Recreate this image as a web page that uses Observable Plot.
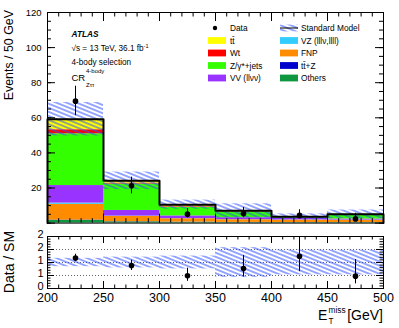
<!DOCTYPE html>
<html><head><meta charset="utf-8">
<script src="https://cdn.jsdelivr.net/npm/d3@7"></script>
<script src="https://cdn.jsdelivr.net/npm/@observablehq/plot@0.6"></script>
<style>
html,body{margin:0;padding:0;background:#fff;}
#wrap{position:relative;width:399px;height:328px;overflow:hidden;font-family:"Liberation Sans",Arial,sans-serif;}
#wrap svg{position:absolute;left:0;}
</style></head><body><div id="wrap"></div>
<script>
// ---- data ----
const binLow    = [200, 250, 300, 350, 400, 450];
const binHigh   = [250, 300, 350, 400, 450, 500];
const binCenter = [225, 275, 325, 375, 425, 475];

// stacked backgrounds, bottom -> top
const yOthers = [1.5, 0.7, 0.5, 0.3, 0.3, 0.3];
const yTtZ    = [0.2, 0.1, 0.1, 0.1, 0.05, 0.05];
const yFNP    = [9.0, 3.0, 1.9, 1.5, 1.4, 1.3];
const yVZ     = [0.7, 0.2, 0.1, 0.1, 0.1, 0.1];
const yVV     = [10.0, 3.2, 1.5, 1.1, 0.9, 0.6];
const yZjets  = [29.5, 15.1, 4.8, 3.2, 0.6, 2.3];
const yWt     = [2.3, 0.5, 0.4, 0.2, 0.1, 0.1];
const yTtbar  = [6.0, 1.3, 1.2, 0.5, 0.1, 0.3];
const smErr   = [9.5, 5.0, 2.6, 4.0, 1.7, 2.4];

const dataY   = [69.5, 21.3, 5.1, 5.4, 4.4, 2.4];
const dataLo  = [61.2, 16.7, 2.9, 3.1, 2.3, 0.9];
const dataHi  = [78.0, 26.2, 8.2, 8.9, 7.6, 5.6];

const samples      = ["Others", "ttZ", "FNP", "VZ", "VV", "Zjets", "Wt", "ttbar"];
const sampleColors = ["#0f9640", "#0000cc", "#ff8c00", "#33ccff", "#9933ff", "#33ff00", "#ff0000", "#ffff00"];

const legendCol1 = [["Data", null], ["tt\u0304", "ttbar"], ["Wt", "Wt"], ["Z/\u03b3*+jets", "Zjets"], ["VV (ll\u03bd\u03bd)", "VV"]];
const legendCol2 = [["Standard Model", null], ["VZ (lll\u03bd,llll)", "VZ"], ["FNP", "FNP"], ["tt\u0304+Z", "ttZ"], ["Others", "Others"]];

const xTicksMajor = [200, 250, 300, 350, 400, 450, 500];
const yTicksMain  = [20, 40, 60, 80, 100, 120];
const yTicksRatio = [0, 0.5, 1, 1.5, 2];

// ---- derived ----
const stackSeries = [yOthers, yTtZ, yFNP, yVZ, yVV, yZjets, yWt, yTtbar];
const rows = [];
binLow.forEach((lo, i) => {
  let c = 0;
  stackSeries.forEach((s, k) => {
    rows.push({x1: lo, x2: binHigh[i], y1: c, y2: c + s[i], sample: samples[k]});
    c += s[i];
  });
});
const totals = binLow.map((_, i) => d3.sum(stackSeries, s => s[i]));
const bins = binLow.map((lo, i) => ({
  x1: lo, x2: binHigh[i], xc: binCenter[i], mc: totals[i], err: smErr[i],
  d: dataY[i], lo: dataLo[i], hi: dataHi[i]
}));
const stepPts = [{x: binLow[0], y: 0}]
  .concat(binLow.map((lo, i) => ({x: lo, y: totals[i]})))
  .concat([{x: binHigh[5], y: totals[5]}, {x: binHigh[5], y: 0}]);

const FONT = "'Liberation Sans', Arial, sans-serif";
const HATCH = "#2f50ff";
const W = 399, mL = 47, mR = 16;
const FW = W - mL - mR;

function addHatch(svg, id) {
  const defs = d3.select(svg).insert("defs", ":first-child");
  const p = defs.append("pattern").attr("id", id).attr("patternUnits", "userSpaceOnUse")
    .attr("width", 8).attr("height", 3.8).attr("patternTransform", "rotate(22)");
  p.append("line").attr("x1", 0).attr("x2", 8).attr("y1", 1.9).attr("y2", 1.9)
    .attr("stroke", HATCH).attr("stroke-width", 1);
}

function tickMarks(xMinor, xMajor, yMinor, yMajor, FH, xl, xs, yl, ys) {
  return [
    Plot.ruleX(xMinor, {insetTop: FH - xs, stroke: "black", strokeWidth: 1}),
    Plot.ruleX(xMajor, {insetTop: FH - xl, stroke: "black", strokeWidth: 1}),
    Plot.ruleX(xMinor, {insetBottom: FH - xs, stroke: "black", strokeWidth: 1}),
    Plot.ruleX(xMajor, {insetBottom: FH - xl, stroke: "black", strokeWidth: 1}),
    Plot.ruleY(yMinor, {insetRight: FW - ys, stroke: "black", strokeWidth: 1}),
    Plot.ruleY(yMajor, {insetRight: FW - yl, stroke: "black", strokeWidth: 1}),
    Plot.ruleY(yMinor, {insetLeft: FW - ys, stroke: "black", strokeWidth: 1}),
    Plot.ruleY(yMajor, {insetLeft: FW - yl, stroke: "black", strokeWidth: 1})
  ];
}

const wrap = document.getElementById("wrap");

// ---- main panel ----
const mainH = 226, mT = 12, mB = 3.4;
const mainFH = mainH - mT - mB;
const main = Plot.plot({
  width: W, height: mainH,
  marginLeft: mL, marginRight: mR, marginTop: mT, marginBottom: mB,
  style: {fontFamily: FONT, background: "white"},
  x: {domain: [200, 500], axis: null},
  y: {domain: [0, 120]},
  color: {domain: samples, range: sampleColors},
  marks: [
    Plot.rect(rows, {x1: "x1", x2: "x2", y1: "y1", y2: "y2", fill: "sample"}),
    Plot.rect(bins, {x1: "x1", x2: "x2", y1: d => d.mc - d.err, y2: d => d.mc + d.err, fill: "url(#smhatch1)"}),
    Plot.line(stepPts, {x: "x", y: "y", curve: "step-after", stroke: "black", strokeWidth: 2}),
    Plot.ruleX(bins, {x: "xc", y1: "lo", y2: "hi", stroke: "black", strokeWidth: 1}),
    Plot.dot(bins, {x: "xc", y: "d", r: 2.8, fill: "black", stroke: "none"}),
    ...tickMarks(d3.range(200, 501, 10), xTicksMajor, d3.range(0, 121, 5), d3.range(0, 121, 20), mainFH, 9, 4.5, 8, 4),
    Plot.frame({stroke: "black", strokeWidth: 1}),
    Plot.axisY(yTicksMain, {tickSize: 0, tickPadding: 6, fontSize: 9.5, label: null})
  ]
});
addHatch(main, "smhatch1");
main.style.top = "0px";
wrap.appendChild(main);

// ---- ratio panel ----
const rTop = 225, rH = 103, rT = 11, rB = 40;
const rFH = rH - rT - rB;
const ratio = Plot.plot({
  width: W, height: rH,
  marginLeft: mL, marginRight: mR, marginTop: rT, marginBottom: rB,
  style: {fontFamily: FONT, background: "white"},
  x: {domain: [200, 500]},
  y: {domain: [0, 2]},
  marks: [
    Plot.ruleY([0.5, 1, 1.5], {stroke: "#666", strokeDasharray: "1,2", strokeWidth: 1}),
    Plot.rect(bins, {x1: "x1", x2: "x2", y1: d => 1 - d.err / d.mc, y2: d => 1 + d.err / d.mc, fill: "url(#smhatch2)"}),
    Plot.ruleX(bins, {x: "xc", y1: d => d.lo / d.mc, y2: d => Math.min(2, d.hi / d.mc), stroke: "black", strokeWidth: 1}),
    Plot.dot(bins, {x: "xc", y: d => d.d / d.mc, r: 2.8, fill: "black", stroke: "none"}),
    ...tickMarks(d3.range(200, 501, 10), xTicksMajor, d3.range(0, 2.001, 0.1), yTicksRatio, rFH, 7, 3.5, 7, 3.5),
    Plot.frame({stroke: "black", strokeWidth: 1}),
    Plot.axisY(yTicksRatio, {tickSize: 0, tickPadding: 4, fontSize: 11, label: null, dy: -2.5}),
    Plot.axisX(xTicksMajor, {tickSize: 0, tickPadding: 3, fontSize: 12.5, label: null, dy: 2})
  ]
});
addHatch(ratio, "smhatch2");
ratio.style.top = rTop + "px";
wrap.appendChild(ratio);

// ---- overlay: titles, labels, legend ----
const ov = d3.select(wrap).append("svg").attr("width", W).attr("height", 328)
  .style("top", "0px").style("font-family", FONT);
addHatch(ov.node(), "smhatch3");

ov.append("text").attr("transform", "translate(12.5,10) rotate(-90)")
  .attr("text-anchor", "end").attr("font-size", 12.4).text("Events / 50 GeV");
ov.append("text").attr("transform", "translate(14,262) rotate(-90)")
  .attr("text-anchor", "middle").attr("font-size", 14).text("Data / SM");

ov.append("text").attr("x", 71.5).attr("y", 37.4).attr("font-size", 8.3)
  .attr("font-weight", "bold").attr("font-style", "italic").text("ATLAS");
const s1 = ov.append("text").attr("x", 71.5).attr("y", 51).attr("font-size", 8.2);
s1.append("tspan").text("\u221as = 13 TeV, 36.1 fb");
s1.append("tspan").attr("dy", -3).attr("font-size", 5.5).text("-1");
ov.append("text").attr("x", 71.5).attr("y", 65).attr("font-size", 8.2).text("4-body selection");
ov.append("text").attr("x", 71.5).attr("y", 81).attr("font-size", 9.5).text("CR");
ov.append("text").attr("x", 86).attr("y", 73).attr("font-size", 6).text("4-body");
ov.append("text").attr("x", 86).attr("y", 87).attr("font-size", 6).text("Z\u03c4\u03c4");

ov.append("text").attr("x", 318).attr("y", 320).attr("font-size", 14).text("E");
ov.append("text").attr("x", 328.5).attr("y", 313).attr("font-size", 8.3).text("miss");
ov.append("text").attr("x", 328.5).attr("y", 323.5).attr("font-size", 8.2).text("T");
ov.append("text").attr("x", 383).attr("y", 320).attr("text-anchor", "end").attr("font-size", 14).text("[GeV]");

const colorOf = s => sampleColors[samples.indexOf(s)];
const rowY = i => 28 + i * 12.5;
function legendCol(entries, sx, tx) {
  entries.forEach(([label, key], i) => {
    const y = rowY(i);
    if (label === "Data") {
      ov.append("circle").attr("cx", sx + 7).attr("cy", y).attr("r", 2.2).attr("fill", "black");
    } else if (label === "Standard Model") {
      ov.append("rect").attr("x", sx).attr("y", y - 3.4).attr("width", 18).attr("height", 6.8).attr("fill", "url(#smhatch3)");
      ov.append("line").attr("x1", sx).attr("x2", sx + 18).attr("y1", y).attr("y2", y).attr("stroke", "black").attr("stroke-width", 1);
    } else {
      ov.append("rect").attr("x", sx).attr("y", y - 3.4).attr("width", 18).attr("height", 6.8).attr("fill", colorOf(key));
    }
    ov.append("text").attr("x", tx).attr("y", y + 3).attr("font-size", 8.3).text(label);
  });
}
legendCol(legendCol1, 208, 230);
legendCol(legendCol2, 280, 301);
</script></body></html>
